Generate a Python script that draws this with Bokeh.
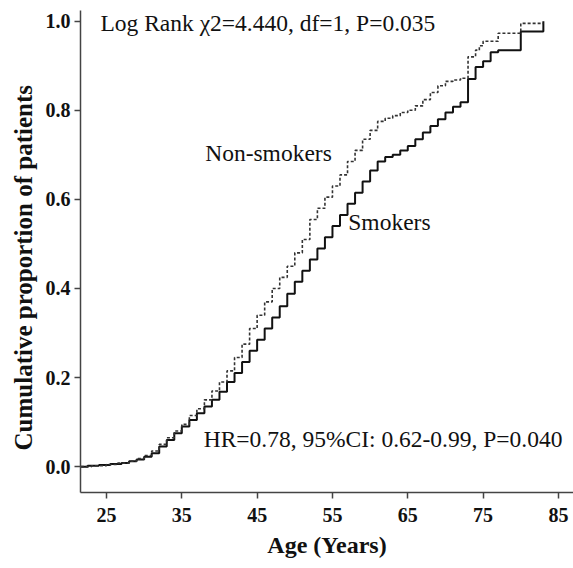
from bokeh.plotting import figure
from bokeh.models import Label, Title, FixedTicker, PrintfTickFormatter, Range1d
from bokeh.embed import file_html
from bokeh.resources import INLINE

# Smokers (solid)
smk_age = [21.6, 22.5, 24, 25.5, 27, 28, 29, 30, 31, 32, 33, 34, 35, 36, 37, 38, 39, 40,
           41, 42, 43, 44, 45, 46, 47, 48, 49, 50, 51, 52, 53, 54, 55, 56, 57, 58, 59, 60,
           61, 62, 63, 64, 65, 66, 67, 68, 69, 70, 71, 72, 73, 74, 75, 76, 77, 80, 83]
smk_cum = [0.0, 0.002, 0.004, 0.006, 0.008, 0.012, 0.016, 0.022, 0.03, 0.045, 0.06, 0.075,
           0.09, 0.105, 0.12, 0.135, 0.15, 0.168, 0.19, 0.21, 0.235, 0.26, 0.285, 0.31,
           0.335, 0.36, 0.388, 0.415, 0.44, 0.465, 0.49, 0.515, 0.54, 0.565, 0.59, 0.615,
           0.64, 0.665, 0.685, 0.695, 0.70, 0.71, 0.72, 0.735, 0.75, 0.765, 0.78, 0.795,
           0.808, 0.818, 0.87, 0.897, 0.91, 0.93, 0.935, 0.977, 1.0]

# Non-smokers (dotted)
non_age = [21.6, 23, 25, 26.5, 28, 29, 30, 31, 32, 33, 34, 35, 36, 37, 38, 39, 40, 41, 42,
           43, 44, 45, 46, 47, 48, 49, 50, 51, 52, 53, 54, 55, 56, 57, 58, 59, 60, 61, 62,
           63, 64, 65, 66, 67, 68, 69, 70, 71, 72, 73, 74, 74.5, 75, 77, 80, 83]
non_cum = [0.0, 0.002, 0.005, 0.008, 0.012, 0.018, 0.025, 0.035, 0.05, 0.065, 0.08, 0.095,
           0.115, 0.13, 0.15, 0.17, 0.19, 0.215, 0.245, 0.275, 0.31, 0.34, 0.37, 0.4,
           0.425, 0.45, 0.48, 0.51, 0.555, 0.58, 0.605, 0.63, 0.655, 0.685, 0.71, 0.735,
           0.755, 0.775, 0.782, 0.788, 0.795, 0.80, 0.81, 0.824, 0.84, 0.855, 0.865, 0.868,
           0.872, 0.92, 0.935, 0.945, 0.955, 0.973, 0.995, 0.995]

x_ticks = [25, 35, 45, 55, 65, 75, 85]
y_ticks = [0.0, 0.2, 0.4, 0.6, 0.8, 1.0]

FONT = "Liberation Serif"
INK = "#111111"

p = figure(width=573, height=560, output_backend="svg", toolbar_location=None,
           x_range=Range1d(21.55, 87.0), y_range=Range1d(-0.058, 1.024),
           min_border_left=80, min_border_right=0, min_border_top=10, min_border_bottom=63)
p.outline_line_color = None
p.xgrid.grid_line_color = None
p.ygrid.grid_line_color = None
p.background_fill_color = "white"

p.step(smk_age, smk_cum, mode="after", line_color="#111111", line_width=2)
p.step(non_age, non_cum, mode="after", line_color="#333333", line_width=1.6, line_dash="3 2")

for ax in (p.xaxis[0], p.yaxis[0]):
    ax.axis_line_color = "#444444"
    ax.axis_line_width = 1.5
    ax.major_tick_line_color = "#444444"
    ax.major_tick_line_width = 1.5
    ax.major_tick_out = 6
    ax.major_tick_in = 0
    ax.minor_tick_line_color = None
    ax.major_label_text_font = FONT
    ax.major_label_text_font_style = "bold"
    ax.major_label_text_font_size = "20px"
    ax.major_label_text_color = INK

p.xaxis.ticker = FixedTicker(ticks=x_ticks)
p.yaxis.ticker = FixedTicker(ticks=y_ticks)
p.yaxis.formatter = PrintfTickFormatter(format="%.1f")
p.xaxis.axis_label = "Age (Years)"
p.xaxis.axis_label_text_font = FONT
p.xaxis.axis_label_text_font_style = "bold"
p.xaxis.axis_label_text_font_size = "24px"
p.xaxis.axis_label_text_color = INK
p.xaxis.major_label_standoff = 9
p.yaxis.major_label_standoff = 4
p.xaxis.axis_label_standoff = 7

# y-axis title (starts a little above the bottom of the axis, as in the original)
p.add_layout(Title(text="Cumulative proportion of patients", align="left",
                   text_font=FONT, text_font_style="bold", text_font_size="25px",
                   text_color=INK, offset=42, standoff=12), "left")

def lab(x, y, t):
    p.add_layout(Label(x=x, y=y, text=t, text_font=FONT, text_font_size="23.5px",
                       text_color=INK, text_baseline="middle", text_align="left"))

lab(24.2, 0.995, "Log Rank χ2=4.440, df=1, P=0.035")
lab(38.1, 0.704, "Non-smokers")
lab(57.1, 0.549, "Smokers")
lab(37.9, 0.062, "HR=0.78, 95%CI: 0.62-0.99, P=0.040")

open("out.html", "w").write(file_html(p, INLINE))
